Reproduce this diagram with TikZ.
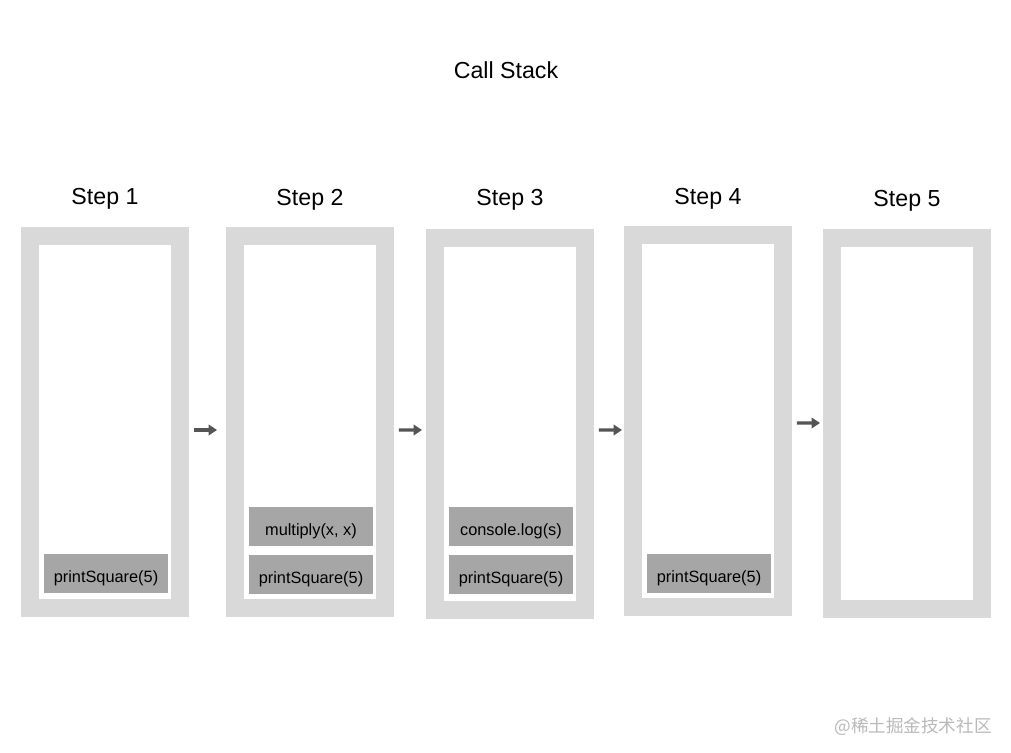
\documentclass[tikz,border=0pt]{standalone}
\usepackage{fontspec}
\setmainfont{Liberation Sans}
\newfontfamily\cjkfont{Noto Sans CJK SC}
\usetikzlibrary{arrows.meta}
\definecolor{framegray}{HTML}{D9D9D9}
\definecolor{callgray}{HTML}{A6A6A6}
\definecolor{arrowgray}{HTML}{555555}
\begin{document}
\begin{tikzpicture}[x=0.02cm,y=-0.02cm,
    stackframe/.style={draw=framegray,line width=0.36cm,minimum width=3cm,minimum height=7.44cm},
    callbox/.style={fill=callgray,minimum width=2.48cm,minimum height=0.78cm,inner sep=0pt,
      text height=1.04em,text depth=0pt,font=\fontsize{9.3}{11}\selectfont},
    steplabel/.style={anchor=base,font=\fontsize{13.2}{16}\selectfont},
    nextstep/.style={-{Triangle[length=4.8pt,width=6pt]},line width=1.9pt,draw=arrowgray}]
  \useasboundingbox (0,0) rectangle (1011,753);
  % title
  \node (title) at (506,79) [steplabel] {Call Stack};
  % frames
  \node (f1) at (105,422)   [stackframe] {};
  \node (f2) at (310,422)   [stackframe] {};
  \node (f3) at (510,424)   [stackframe] {};
  \node (f4) at (708,421)   [stackframe] {};
  \node (f5) at (907,423.5) [stackframe] {};
  % step labels
  \node (l1) at (105,205) [steplabel] {Step 1};
  \node (l2) at (310,206) [steplabel] {Step 2};
  \node (l3) at (510,206) [steplabel] {Step 3};
  \node (l4) at (708,205) [steplabel] {Step 4};
  \node (l5) at (907,207) [steplabel] {Step 5};
  % calls on the stack
  \node (s1)  at (106,573.5) [callbox] {printSquare(5)};
  \node (s2a) at (311,526.5) [callbox] {multiply(x, x)};
  \node (s2b) at (311,574.5) [callbox] {printSquare(5)};
  \node (s3a) at (511,526.5) [callbox] {console.log(s)};
  \node (s3b) at (511,574.5) [callbox] {printSquare(5)};
  \node (s4)  at (709,573.5) [callbox] {printSquare(5)};
  % arrows
  \draw[nextstep] ([xshift=0.1cm,yshift=-0.16cm]f1.east) -- ([xshift=-0.18cm,yshift=-0.16cm]f2.west);
  \draw[nextstep] ([xshift=0.1cm,yshift=-0.16cm]f2.east) -- ([xshift=-0.08cm,yshift=-0.12cm]f3.west);
  \draw[nextstep] ([xshift=0.1cm,yshift=-0.12cm]f3.east) -- ([xshift=-0.04cm,yshift=-0.18cm]f4.west);
  \draw[nextstep] ([xshift=0.1cm,yshift=-0.04cm]f4.east) -- ([xshift=-0.06cm,yshift=0.01cm]f5.west);
  % watermark
  \node (wm) at (913,727) [text=gray!55,font=\cjkfont\fontsize{10}{12}\selectfont] {@稀土掘金技术社区};
\end{tikzpicture}
\end{document}
